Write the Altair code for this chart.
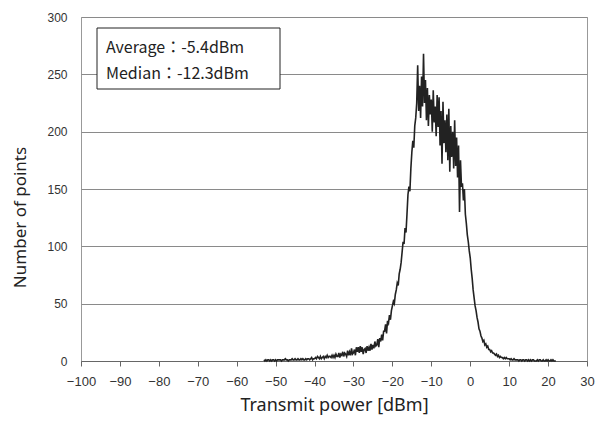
import altair as alt
import pandas as pd

# x grid of the histogram (dBm), 0.25 dB bins starting at -53 dBm
x_start = -53.0
x_step = 0.25

# counts, per 0.25 dB bin
left_tail = [  # -53 .. -40.25
    1, 0, 1, 0, 1, 1, 0, 1, 0, 1, 1, 0, 1, 0, 1, 1,
    1, 1, 0, 1, 1, 1, 2, 1, 1, 0, 1, 1, 1, 2, 1, 1,
    2, 1, 1, 2, 1, 1, 2, 1, 2, 1, 1, 2, 1, 2, 2, 1,
    2, 3, 1, 2,
]
rise = [  # -40 .. -15.25
    2, 3, 2, 4, 3, 2, 4, 2, 3, 4, 2, 4, 3, 5, 3, 4,
    4, 3, 5, 3, 5, 3, 6, 4, 4, 7, 3, 6, 5, 8, 4, 7,
    6, 4, 9, 5, 8, 5, 11, 6, 7, 10, 5, 12, 8, 12, 7, 13,
    8, 12, 6, 10, 11, 7, 13, 9, 12, 9, 15, 10, 14, 11, 17, 13,
    14, 19, 12, 20, 17, 23, 18, 26, 26, 32, 24, 35, 33, 40, 36, 44,
    48, 52, 50, 58, 62, 68, 66, 76, 80, 86, 95, 104, 102, 116, 112, 128,
    145, 152, 148, 168,
]
peak = [  # -15 .. -5.25
    182, 192, 186, 205, 212, 225, 258, 218, 240, 212, 248, 222,
    268, 225, 245, 210, 238, 205, 232, 215, 228, 200, 236, 208,
    222, 196, 232, 204, 230, 188, 218, 172, 226, 190, 210, 182,
    215, 175, 220, 165,
]
fall = [  # -5 .. 4.75
    205, 178, 200, 168, 210, 170, 195, 160, 188, 130, 175, 152,
    155, 140, 150, 128, 120, 110, 104, 96, 90, 80, 72, 62,
    55, 48, 44, 38, 34, 28, 26, 22, 20, 17, 18, 14,
    15, 12, 13, 10,
]
right_tail = [  # 5 .. 22
    10, 8, 9, 7, 7, 6, 5, 6, 4, 5, 3, 4, 3, 3, 2, 3,
    2, 3, 2, 2, 2, 1, 2, 1, 1, 2, 1, 1, 1, 1, 0, 1,
    1, 0, 1, 1, 0, 1, 1, 0, 1, 0, 1, 0, 1, 1, 0, 0,
    0, 1, 0, 1, 1, 0, 0, 1, 0, 0, 1, 0, 1, 0, 0, 1,
    0, 1, 0, 0, 0,
]

counts = left_tail + rise + peak + fall + right_tail
power = [x_start + x_step * i for i in range(len(counts))]

x_ticks = list(range(-100, 31, 10))
y_ticks = [0, 50, 100, 150, 200, 250, 300]
average_text = "Average：-5.4dBm"
median_text = "Median：-12.3dBm"

df = pd.DataFrame({"power": power, "count": counts})

label_font = "Liberation Sans"
title_font = "Noto Sans"

line = alt.Chart(df).mark_line(color="#222222", strokeWidth=1.6).encode(
    x=alt.X(
        "power:Q",
        scale=alt.Scale(domain=[-100, 30], nice=False, zero=False),
        axis=alt.Axis(
            values=x_ticks, grid=False, title="Transmit power [dBm]",
            tickSize=5, tickColor="#666666", domainColor="#666666",
            labelPadding=9, labelFontSize=13, labelColor="#333333",
            labelOverlap=False, labelFlush=False,
            labelFont=label_font, titleFont=title_font, titleFontSize=18,
            titleFontWeight="normal", titleColor="#222222", titlePadding=8,
        ),
    ),
    y=alt.Y(
        "count:Q",
        scale=alt.Scale(domain=[0, 300], nice=False),
        axis=alt.Axis(
            values=y_ticks, grid=True, gridColor="#8a8a8a", gridWidth=1,
            ticks=False, domain=False, title="Number of points",
            labelPadding=14, labelFontSize=12, labelColor="#333333",
            labelOverlap=False,
            labelFont=label_font, titleFont=title_font, titleFontSize=17,
            titleFontWeight="normal", titleColor="#222222",
            titleX=-61, titleY=200, titleAngle=270,
            titleAlign="center", titleBaseline="middle",
        ),
    ),
)

box = alt.Chart(pd.DataFrame({"a": [0]})).mark_rect(
    fill="white", stroke="#222222", strokeWidth=1
).encode(
    x=alt.value(16), x2=alt.value(199), y=alt.value(11), y2=alt.value(72)
)

base_txt = alt.Chart(pd.DataFrame({"a": [0]}))
txt_style = dict(align="left", baseline="middle", fontSize=16,
                 font="Noto Sans CJK JP", color="#222222")
t1 = base_txt.mark_text(text=average_text, **txt_style).encode(
    x=alt.value(25), y=alt.value(31))
t2 = base_txt.mark_text(text=median_text, **txt_style).encode(
    x=alt.value(25), y=alt.value(57))

chart = alt.layer(line, box, t1, t2).properties(
    width=506, height=344,
    autosize=alt.AutoSizeParams(type="none"),
    padding={"left": 73, "top": 9, "right": 8, "bottom": 55},
).configure_view(stroke="#999999", strokeWidth=1)

chart.save("out.html", embed_options={"renderer": "svg", "actions": False})
